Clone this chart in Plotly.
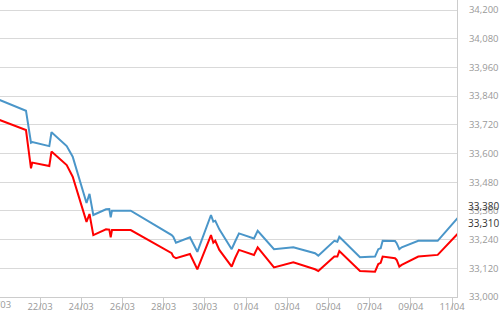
import plotly.graph_objects as go
from datetime import datetime

dates = [
    "2020-03-19 23:00", "2020-03-21 07:40", "2020-03-21 13:30", "2020-03-21 15:00",
    "2020-03-22 10:50", "2020-03-22 13:24", "2020-03-23 07:06", "2020-03-23 14:06",
    "2020-03-24 06:12", "2020-03-24 09:40", "2020-03-24 14:06", "2020-03-25 04:54",
    "2020-03-25 08:44", "2020-03-25 10:22", "2020-03-25 11:52", "2020-03-26 09:40",
    "2020-03-28 09:24", "2020-03-28 11:18", "2020-03-28 14:24", "2020-03-28 22:36",
    "2020-03-29 06:42", "2020-03-29 15:18", "2020-03-30 07:12", "2020-03-30 09:54",
    "2020-03-30 12:12", "2020-03-30 16:54", "2020-03-31 07:18", "2020-03-31 11:12",
    "2020-03-31 15:48", "2020-04-01 09:18", "2020-04-01 13:36", "2020-04-02 08:36",
    "2020-04-03 07:06", "2020-04-04 08:24", "2020-04-04 12:12", "2020-04-05 06:54",
    "2020-04-05 10:24", "2020-04-05 12:42", "2020-04-06 12:48", "2020-04-07 06:18",
    "2020-04-07 10:06", "2020-04-07 12:54", "2020-04-07 15:12", "2020-04-08 05:36",
    "2020-04-08 07:30", "2020-04-08 10:36", "2020-04-08 13:24", "2020-04-09 08:42",
    "2020-04-10 07:18", "2020-04-11 18:36",
]

sell = [
    33827, 33779, 33645, 33648, 33631, 33689, 33631, 33587,
    33393, 33431, 33343, 33367, 33368, 33333, 33361, 33361,
    33259, 33252, 33227, 33238, 33250, 33189, 33343, 33315,
    33319, 33283, 33200, 33231, 33266, 33245, 33277, 33200,
    33208, 33183, 33173, 33235, 33231, 33252, 33166, 33169,
    33200, 33204, 33235, 33234, 33225, 33200, 33208, 33235,
    33235, 33380,
]

buy = [
    33743, 33698, 33538, 33562, 33548, 33608, 33552, 33503,
    33314, 33347, 33259, 33283, 33282, 33250, 33280, 33280,
    33183, 33169, 33162, 33171, 33180, 33116, 33259, 33227,
    33235, 33197, 33127, 33162, 33197, 33176, 33208, 33124,
    33145, 33116, 33109, 33169, 33169, 33192, 33109, 33106,
    33138, 33143, 33169, 33162, 33155, 33127, 33134, 33169,
    33176, 33310,
]

y_ticks = [33000, 33120, 33240, 33360, 33480, 33600, 33720, 33840, 33960, 34080, 34200]
y_tick_text = ["33,000", "33,120", "33,240", "33,360", "33,480", "33,600",
               "33,720", "33,840", "33,960", "34,080", "34,200"]

x_range = ["2020-03-20 01:24", "2020-04-11 05:48"]
first_tick = "2020-03-20"

FONT = "Open Sans"

fig = go.Figure()
fig.add_trace(go.Scatter(x=dates, y=sell, mode="lines", name="sell",
                         line=dict(color="#4a96c9", width=2)))
fig.add_trace(go.Scatter(x=dates, y=buy, mode="lines", name="buy",
                         line=dict(color="#ff0000", width=2)))

fig.update_layout(
    width=500, height=312,
    margin=dict(l=0, r=43, t=0, b=15),
    paper_bgcolor="white", plot_bgcolor="white",
    showlegend=False,
    font=dict(family=FONT, size=10, color="#999999"),
)

fig.update_xaxes(
    type="date",
    range=x_range,
    tick0=first_tick, dtick=2 * 86400000,
    tickformat="%d/%m",
    showgrid=False,
    showline=True, linecolor="#cccccc", linewidth=1,
    ticks="outside", ticklen=12, tickcolor="#cccccc", tickwidth=1,
    ticklabelstandoff=-11,
    tickfont=dict(family=FONT, size=9.5, color="#999999"),
)

fig.update_yaxes(
    range=[33000, 34242],
    side="right",
    tickvals=y_ticks, ticktext=y_tick_text,
    showgrid=True, gridcolor="#d9d9d9", gridwidth=1,
    showline=True, linecolor="#cccccc", linewidth=1,
    ticks="", ticklabelstandoff=9,
    tickfont=dict(family=FONT, size=9.5, color="#999999"),
    zeroline=False,
)

# partially visible first date label at the left edge (outside the x range)
fmt = "%Y-%m-%d %H:%M"
r0 = datetime.strptime(x_range[0], fmt)
r1 = datetime.strptime(x_range[1], fmt)
t0 = datetime.strptime(first_tick, "%Y-%m-%d")
frac = (t0 - r0).total_seconds() / (r1 - r0).total_seconds()
fig.add_annotation(x=frac, y=0, xref="paper", yref="paper",
                   text=t0.strftime("%d/%m"), showarrow=False,
                   xanchor="center", yanchor="top", yshift=1,
                   font=dict(family=FONT, size=9.5, color="#999999"))

# last-value labels
for val, txt in [(sell[-1], "33,380"), (buy[-1], "33,310")]:
    fig.add_annotation(x=1, xref="paper", y=val, yref="y", text=txt,
                       showarrow=False, xanchor="left", xshift=9,
                       font=dict(family=FONT, size=10, color="#333333"))

fig.write_html("out.html")
